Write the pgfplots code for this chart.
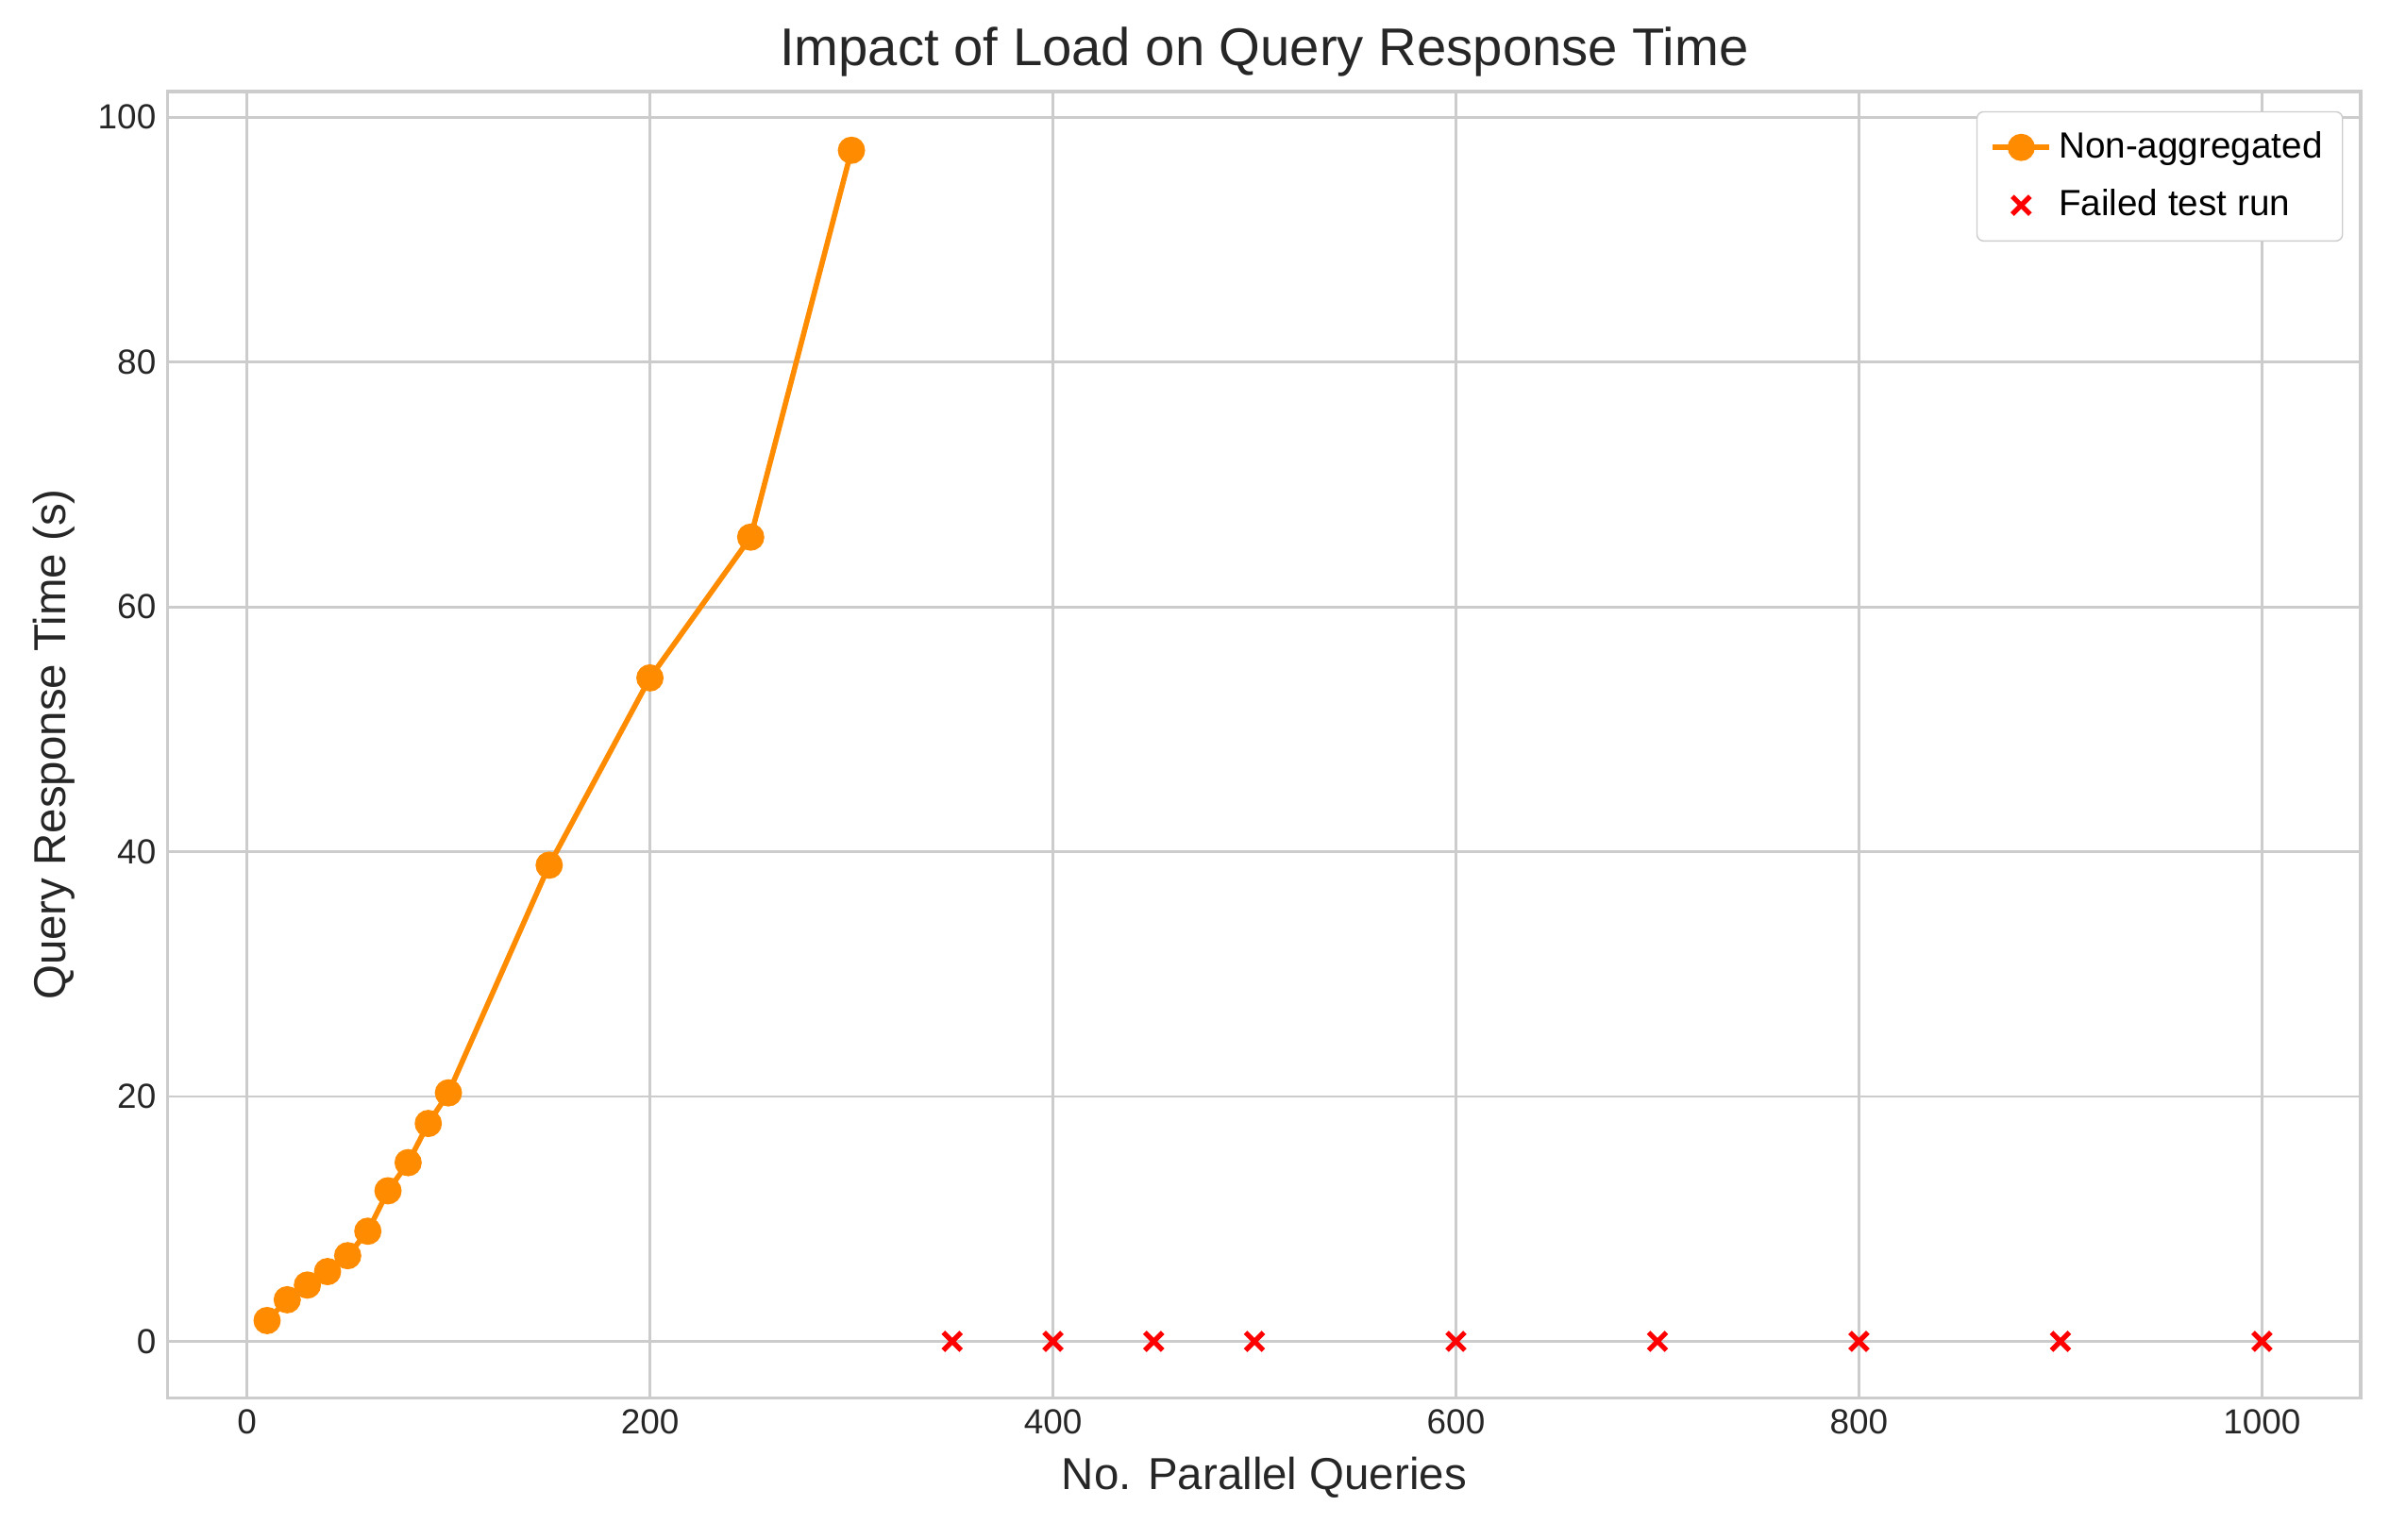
\documentclass[border=0pt]{standalone}
\usepackage{pgfplots}
\pgfplotsset{compat=1.18}
\usepackage{fontspec}
\setmainfont{Liberation Sans}
\definecolor{gridc}{HTML}{CCCCCC}
\definecolor{orng}{HTML}{FF8C00}
\definecolor{txt}{HTML}{262626}
\begin{document}
\begin{tikzpicture}
\path[use as bounding box] (-1.777cm,-1.50cm) rectangle (23.53cm,14.81cm);
\begin{axis}[
  at={(0,0)}, anchor=south west,
  scale only axis, width=23.23cm, height=13.84cm,
  xmin=-39.3, xmax=1049, ymin=-4.6, ymax=102.1,
  xtick={0,200,...,1000}, ytick={0,20,...,100},
  grid=major, grid style={gridc, line width=0.8pt},
  axis line style={gridc, line width=0.9pt},
  major tick length=0pt,
  tick label style={font=\fontsize{10.5}{12}\selectfont, text=txt},
  /pgf/number format/assume math mode=true,
  /pgf/number format/1000 sep={},
  xlabel={No. Parallel Queries}, ylabel={Query Response Time (s)},
  label style={font=\fontsize{13.5}{16}\selectfont, text=txt},
  title={Impact of Load on Query Response Time},
  title style={font=\fontsize{16}{19}\selectfont, text=txt, yshift=-5pt},
  legend style={at={(0.992,0.985)}, anchor=north east, font=\fontsize{11}{13}\selectfont, draw=gridc, rounded corners=2pt, inner sep=4pt, row sep=4pt},
  legend cell align=left,
]
\addplot[orng, line width=1.6pt, mark=*, mark size=3.3pt, mark options={fill=orng}] coordinates {
(10,1.7)(20,3.4)(30,4.6)(40,5.7)(50,7.0)(60,9.0)(70,12.3)(80,14.6)(90,17.8)(100,20.3)(150,38.9)(200,54.2)(250,65.7)(300,97.3)};
\addlegendentry{Non-aggregated}
\addplot[only marks, red, mark=x, mark size=3.8pt, line width=1.5pt] coordinates {
(350,0)(400,0)(450,0)(500,0)(600,0)(700,0)(800,0)(900,0)(1000,0)};
\addlegendentry{Failed test run}
\end{axis}
\end{tikzpicture}
\end{document}
